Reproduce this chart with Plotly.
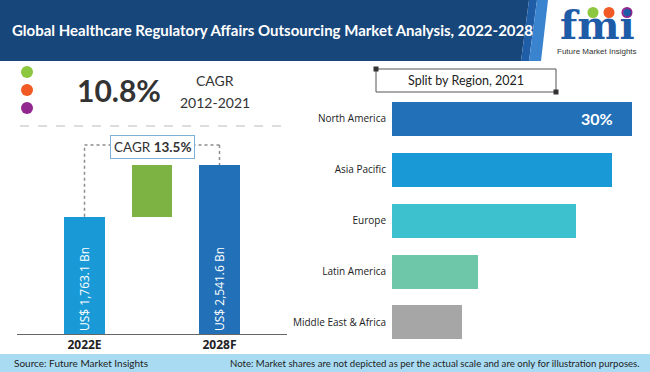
import plotly.graph_objects as go

W, H = 650, 372

def X(x):
    return x / W

def Y(y):
    return 1 - y / H

# ---------------- data ----------------
years = ["2022E", "2028F"]
market_values = [1763.1, 2541.6]          # US$ Bn
cagr_hist = "10.8%"
cagr_hist_period = "2012-2021"
cagr_fore = "13.5%"

regions = ["North America", "Asia Pacific", "Europe", "Latin America", "Middle East & Africa"]
region_share = [30, 27.5, 23, 10.75, 8.75]
region_colors = ["#2170b8", "#199ad6", "#3ec1cf", "#6fc7aa", "#a6a6a6"]

title_text = "Global Healthcare Regulatory Affairs Outsourcing Market Analysis, 2022-2028"
source_text = "Source: Future Market Insights"
note_text = "Note: Market shares are not depicted as per the actual scale and are only for illustration purposes."

FONT = "Lato"

fig = go.Figure()

# ---------------- left: market size bars ----------------
increment = market_values[1] - market_values[0]
fig.add_trace(go.Bar(
    x=[0, 1, 2],
    y=[market_values[0], increment, market_values[1]],
    base=[0, market_values[0], 0],
    width=0.6,
    marker=dict(color=["#199ad6", "#7db343", "#2170b8"], line=dict(width=0)),
    text=[f"US$ {market_values[0]:,.1f} Bn", "", f"US$ {market_values[1]:,.1f} Bn"],
    textposition="inside",
    insidetextanchor="start",
    textangle=-90,
    constraintext="none",
    textfont=dict(color="white", size=12, family="Open Sans"),
    xaxis="x", yaxis="y",
    hoverinfo="skip",
))

# ---------------- right: region split ----------------
fig.add_trace(go.Bar(
    x=region_share,
    y=regions,
    orientation="h",
    width=0.67,
    marker=dict(color=region_colors, line=dict(width=0)),
    xaxis="x2", yaxis="y2",
    hoverinfo="skip",
))

LEVEL = 2844  # height of the CAGR bracket

shapes = []
# header
shapes.append(dict(type="path", xref="paper", yref="paper",
                   path=f"M 0,{Y(0)} L {X(529)},{Y(0)} L {X(521)},{Y(61)} L 0,{Y(61)} Z",
                   fillcolor="#17467a", line=dict(width=0), layer="below"))
shapes.append(dict(type="path", xref="paper", yref="paper",
                   path=f"M {X(529)},{Y(0)} L {X(537)},{Y(0)} L {X(529)},{Y(61)} L {X(521)},{Y(61)} Z",
                   fillcolor="#1f5ea6", line=dict(width=0), layer="below"))
shapes.append(dict(type="path", xref="paper", yref="paper",
                   path=f"M {X(537)},{Y(0)} L {X(548)},{Y(0)} L {X(541)},{Y(61)} L {X(529)},{Y(61)} Z",
                   fillcolor="#3a83cf", line=dict(width=0), layer="below"))
# footer
shapes.append(dict(type="rect", xref="paper", yref="paper",
                   x0=0, x1=1, y0=Y(372), y1=Y(354),
                   fillcolor="#a9dcf3", line=dict(width=0), layer="below"))
# bullet circles
for cy, col in zip([72, 90, 108], ["#8dc63f", "#f15a24", "#92278f"]):
    shapes.append(dict(type="circle", xref="paper", yref="paper",
                       x0=X(21), x1=X(33), y0=Y(cy + 6), y1=Y(cy - 6),
                       fillcolor=col, line=dict(width=0)))
# logo circles
for cx, col in zip([593, 609, 627], ["#8dc63f", "#f15a24", "#92278f"]):
    shapes.append(dict(type="circle", xref="paper", yref="paper",
                       x0=X(cx - 5.5), x1=X(cx + 5.5), y0=Y(18), y1=Y(7),
                       fillcolor=col, line=dict(width=0)))
# dashed separator
shapes.append(dict(type="line", xref="paper", yref="paper",
                   x0=X(20), x1=X(288), y0=Y(126), y1=Y(126),
                   line=dict(color="#bbbbbb", width=1, dash="dash")))
# CAGR bracket (dotted)
dot = dict(color="#8c8c8c", width=1.5, dash="dot")
shapes.append(dict(type="line", xref="x", yref="y", x0=0, x1=0,
                   y0=market_values[0], y1=LEVEL, line=dot))
shapes.append(dict(type="line", xref="x", yref="y", x0=0, x1=2,
                   y0=LEVEL, y1=LEVEL, line=dot))
shapes.append(dict(type="line", xref="x", yref="y", x0=2, x1=2,
                   y0=LEVEL, y1=market_values[1], line=dot))
# region title box
shapes.append(dict(type="rect", xref="paper", yref="paper",
                   x0=X(376), x1=X(556), y0=Y(92), y1=Y(69),
                   line=dict(color="#555555", width=1), fillcolor="white"))
for (sx, sy) in [(376, 69), (556, 92)]:
    shapes.append(dict(type="rect", xref="paper", yref="paper",
                       x0=X(sx - 2.5), x1=X(sx + 2.5), y0=Y(sy + 2.5), y1=Y(sy - 2.5),
                       line=dict(width=0), fillcolor="#333333"))

annotations = []
def txt(x, y, text, size, color="#333333", xanchor="center", family=FONT, **kw):
    annotations.append(dict(xref="paper", yref="paper", x=X(x), y=Y(y), text=text,
                            showarrow=False, xanchor=xanchor, yanchor="middle",
                            font=dict(size=size, color=color, family=family), **kw))

txt(10, 30, f"<b>{title_text}</b>", 15, color="white", xanchor="left")
txt(597, 25, "<b>fmi</b>", 40, color="#1f5ca8", family="DejaVu Serif")
txt(597, 52, "Future Market Insights", 8, color="#333333", family="Liberation Sans")
txt(119, 90, f"<b>{cagr_hist}</b>", 30, color="#333333")
txt(215, 80, "CAGR", 14, color="#333333")
txt(215, 103, cagr_hist_period, 14, color="#333333")
txt(466, 80.5, "Split by Region, 2021", 12.5, color="#222222")
txt(12, 363, source_text, 10, color="#222222", xanchor="left")
txt(642, 363, note_text, 9.6, color="#222222", xanchor="right")

annotations.append(dict(xref="x", yref="y", x=1, y=LEVEL, yshift=-2,
                        text=f"CAGR <b>{cagr_fore}</b>", showarrow=False,
                        bgcolor="white", bordercolor="#7fb0d6", borderwidth=1, borderpad=3,
                        font=dict(size=13.5, color="#333333", family=FONT)))
annotations.append(dict(xref="x2", yref="y2", x=region_share[0], y=regions[0],
                        xanchor="right", xshift=-17, showarrow=False,
                        text=f"<b>{region_share[0]:.0f}%</b>",
                        font=dict(size=16, color="white", family=FONT)))

fig.update_layout(
    width=W, height=H,
    margin=dict(l=0, r=0, t=0, b=0),
    paper_bgcolor="white", plot_bgcolor="white",
    showlegend=False,
    xaxis=dict(domain=[X(17), X(287)], range=[-1, 3], tickvals=[0, 2],
               ticktext=[f"<b>{y}</b>" for y in years],
               tickfont=dict(size=12, color="#222222", family="Open Sans"),
               showline=True, linecolor="#666666", linewidth=1,
               showgrid=False, zeroline=False, ticks="", anchor="y"),
    yaxis=dict(domain=[Y(334), Y(130)], range=[0, 3070], visible=False, anchor="x"),
    xaxis2=dict(domain=[X(392), X(640)], range=[0, 31], visible=False, anchor="y2"),
    yaxis2=dict(domain=[Y(347.4), Y(93.6)], autorange="reversed", anchor="x2",
                showgrid=False, zeroline=False, showline=False, ticks="",
                ticklabelstandoff=5,
                tickfont=dict(size=10, color="#222222", family="Open Sans")),
    shapes=shapes,
    annotations=annotations,
    bargap=0,
)

fig.write_html("out.html", config={"displayModeBar": False},
               post_script="document.body.style.margin='0';document.body.style.overflow='hidden';")
